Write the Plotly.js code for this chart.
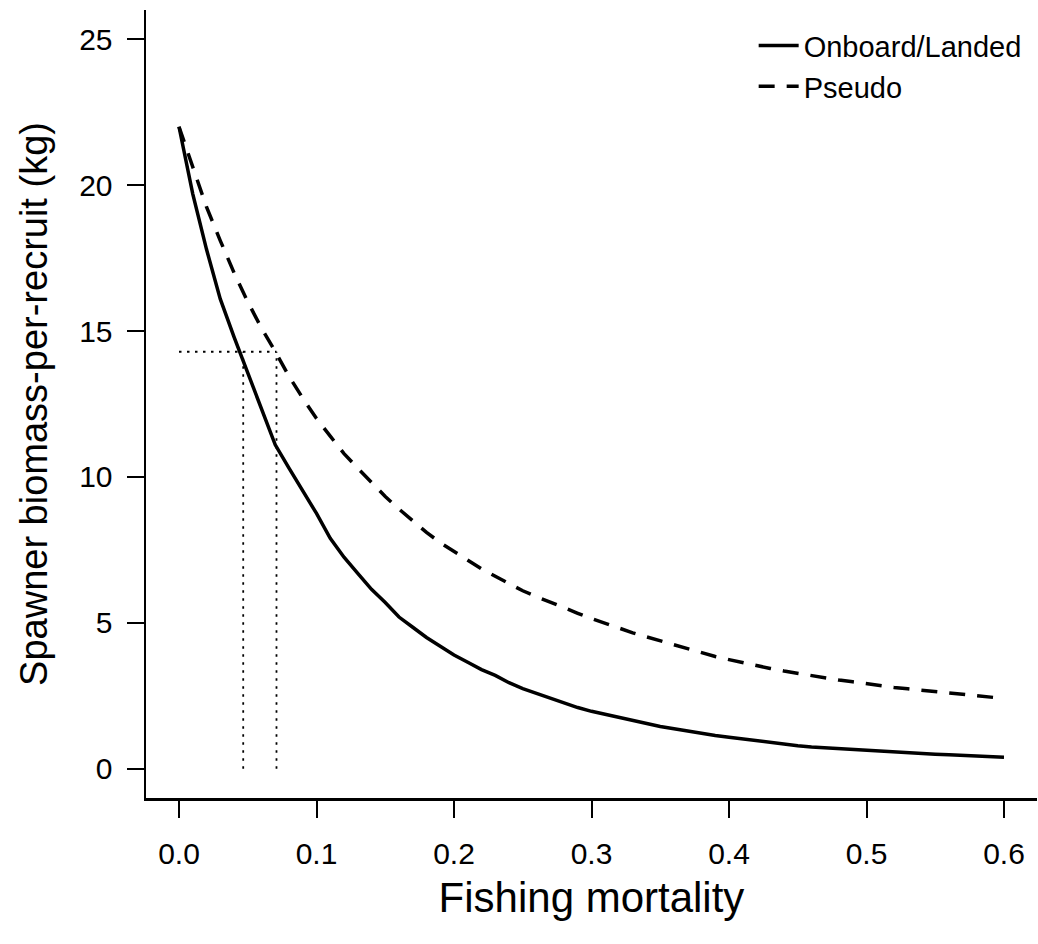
<!DOCTYPE html>
<html>
<head>
<meta charset="utf-8">
<script src="https://cdn.plot.ly/plotly-3.0.1.min.js"></script>
<style>html,body{margin:0;padding:0;background:#fff;}#chart{width:1038px;height:944px;}</style>
</head>
<body>
<div id="chart"></div>
<script>
var fishingMortality = [0.00,0.01,0.02,0.03,0.04,0.05,0.06,0.07,0.08,0.09,0.10,0.11,0.12,0.13,0.14,0.15,0.16,0.17,0.18,0.19,0.20,0.21,0.22,0.23,0.24,0.25,0.26,0.27,0.28,0.29,0.30,0.31,0.32,0.33,0.34,0.35,0.36,0.37,0.38,0.39,0.40,0.41,0.42,0.43,0.44,0.45,0.46,0.47,0.48,0.49,0.50,0.51,0.52,0.53,0.54,0.55,0.56,0.57,0.58,0.59,0.60];
var onboardLanded = [22.0,19.7,17.8,16.1,14.8,13.58,12.3,11.1,10.3,9.55,8.75,7.9,7.25,6.7,6.15,5.7,5.2,4.85,4.5,4.2,3.9,3.65,3.4,3.2,2.95,2.75,2.58,2.42,2.25,2.1,1.97,1.86,1.75,1.64,1.55,1.45,1.37,1.29,1.21,1.14,1.08,1.02,0.96,0.91,0.86,0.79,0.75,0.72,0.68,0.65,0.62,0.59,0.56,0.54,0.52,0.5,0.48,0.46,0.44,0.42,0.40];
var pseudo = [22.0,20.6,19.25,18.1,17.0,16.0,15.1,14.3,13.45,12.7,12.0,11.4,10.8,10.3,9.8,9.33,8.9,8.5,8.1,7.75,7.45,7.15,6.85,6.6,6.35,6.1,5.9,5.7,5.5,5.33,5.15,4.98,4.82,4.66,4.52,4.38,4.24,4.1,3.97,3.85,3.74,3.63,3.53,3.44,3.35,3.27,3.19,3.11,3.04,2.98,2.91,2.85,2.79,2.74,2.69,2.64,2.59,2.54,2.49,2.45,2.41];
var refSPR = 14.29;
var refF = [0.0467, 0.0709];
var xTicks = [0.0,0.1,0.2,0.3,0.4,0.5,0.6];
var xTickLabels = ["0.0","0.1","0.2","0.3","0.4","0.5","0.6"];
var yTicks = [0,5,10,15,20,25];

var font = "Liberation Sans, Arial, sans-serif";
var traces = [
  {x: fishingMortality, y: onboardLanded, mode: "lines", name: "Onboard/Landed",
   line: {color: "#000", width: 3.5}},
  {x: fishingMortality, y: pseudo, mode: "lines", name: "Pseudo",
   line: {color: "#000", width: 3.5, dash: "16px,12px"}},
  {x: [0, refF[1]], y: [refSPR, refSPR], mode: "lines", showlegend: false, hoverinfo: "skip",
   line: {color: "#000", width: 1.8, dash: "2.5px,5.5px"}},
  {x: [refF[0], refF[0]], y: [0, refSPR], mode: "lines", showlegend: false, hoverinfo: "skip",
   line: {color: "#000", width: 1.8, dash: "2.5px,5.5px"}},
  {x: [refF[1], refF[1]], y: [0, refSPR], mode: "lines", showlegend: false, hoverinfo: "skip",
   line: {color: "#000", width: 1.8, dash: "2.5px,5.5px"}}
];

var layout = {
  width: 1038, height: 944,
  paper_bgcolor: "#fff", plot_bgcolor: "#fff",
  margin: {l: 146, r: 1, t: 10, b: 146},
  font: {family: font, color: "#000", size: 29},
  showlegend: true,
  legend: {x: 0.682, y: 0.987, xanchor: "left", yanchor: "top", bgcolor: "rgba(0,0,0,0)",
           font: {family: font, size: 29, color: "#000"}, tracegroupgap: 0, itemwidth: 40},
  xaxis: {range: [-0.024, 0.624], tickvals: xTicks, ticktext: xTickLabels,
          showline: true, linecolor: "#000", linewidth: 2.5, ticks: "outside", ticklen: 17,
          tickwidth: 2, tickcolor: "#000", showgrid: false, zeroline: false,
          ticklabelstandoff: 10,
          tickfont: {family: font, size: 30}, automargin: false,
          title: {text: "Fishing mortality", font: {family: font, size: 42}, standoff: 14}},
  yaxis: {range: [-1, 26], tickvals: yTicks,
          showline: true, linecolor: "#000", linewidth: 2.5, ticks: "outside", ticklen: 17,
          tickwidth: 2, tickcolor: "#000", showgrid: false, zeroline: false,
          ticklabelstandoff: 8,
          tickfont: {family: font, size: 30}, automargin: false,
          title: {text: "Spawner biomass-per-recruit (kg)", font: {family: font, size: 38}, standoff: 20}}
};

Plotly.newPlot("chart", traces, layout, {displayModeBar: false, staticPlot: true});
</script>
</body>
</html>
